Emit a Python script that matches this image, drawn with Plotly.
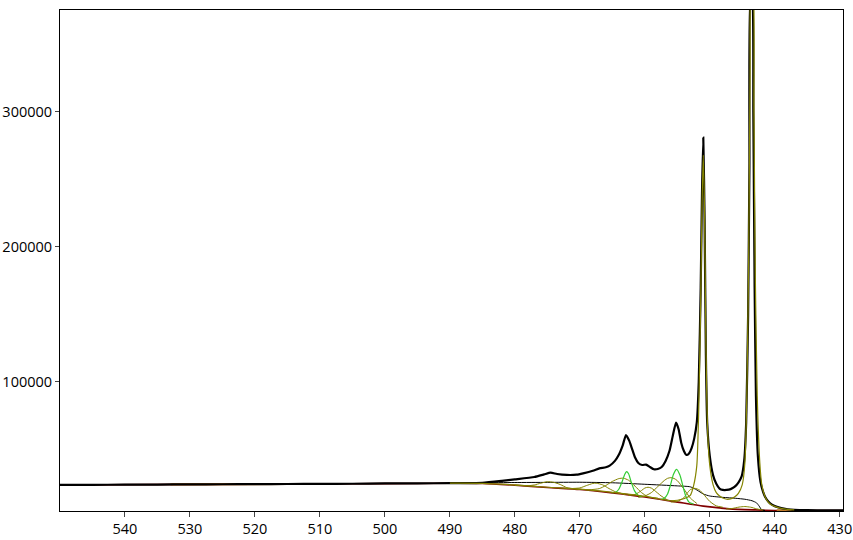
import plotly.graph_objects as go

# ---- measured spectrum (binding energy, counts) ----
be_data = [550, 545, 540, 535, 530, 525, 520, 515, 510, 505, 500, 495, 490, 485, 482, 480, 477,
           475.5, 474.5, 473.5, 472, 470.5, 469.5, 468, 467, 466, 465.4, 464.6, 464.0, 463.4,
           462.9, 462.4, 462.0, 461.5, 461.0, 460.4, 459.8, 459.2, 458.6, 458.0, 457.4, 456.8,
           456.2, 455.7, 455.2, 454.8, 454.4, 454.0, 453.6, 453.2, 452.8, 452.4, 452.0, 451.7,
           451.4, 451.2, 451.0, 450.8, 450.6, 450.4, 450.0, 449.5, 449.0, 448.5, 448.0, 447.4,
           446.8, 446.2, 445.6, 445.1, 444.7, 444.4, 444.1, 443.9, 443.7, 443.5, 443.3, 443.1,
           442.9, 442.6, 442.2, 441.8, 441.5, 441.0, 440.5, 440.0, 439.0, 438.0, 437.0, 435.0,
           432.0, 429.5]
counts_data = [23700, 23800, 23900, 24000, 24100, 24200, 24300, 24400, 24500, 24600, 24800, 24900,
               25000, 25300, 26700, 27800, 29600, 31500, 32800, 31800, 31100, 31300, 32300, 34200,
               36000, 36800, 38000, 41500, 46000, 53000, 60700, 56500, 51000, 44000, 40000, 38500,
               38800, 37000, 35300, 35500, 37000, 41500, 49000, 60000, 69900, 65000, 55000, 49000,
               45900, 47000, 51000, 58000, 70000, 100000, 170000, 240000, 281000, 220000, 120000,
               70000, 45000, 31000, 24500, 21000, 20000, 20000, 20600, 22200, 25500, 30000, 42000,
               70000, 150000, 260000, 385000, 385000, 300000, 170000, 90000, 45000, 26000, 18500,
               15000, 11500, 9300, 8000, 6500, 5700, 5300, 5000, 4900, 4900]

# ---- background ----
be_bg = [550, 530, 510, 500, 490, 485, 480, 475, 470, 465, 460, 455, 451, 447, 443, 440, 435, 429.5]
counts_bg = [23700, 24100, 24500, 24700, 24900, 24800, 23500, 21800, 20300, 17800, 14800, 11000,
             8000, 6000, 5200, 4800, 4700, 4700]

# ---- region markers (orange) ----
be_reg1 = [533, 515]
counts_reg1 = [24050, 24400]
be_reg2 = [439.7, 437.4]
counts_reg2 = [4800, 4750]

# ---- thin black envelope ----
be_env = [490, 485, 480, 475, 470, 465, 460, 455, 453, 452, 451, 450, 448, 446, 444.6, 443.5,
          442.8, 442.4, 442.0, 441.5]
counts_env = [25000, 25300, 25500, 25600, 25700, 25300, 24200, 23000, 22300, 20000, 17000, 15500,
              14500, 13800, 13100, 12000, 10400, 8000, 5200, 4800]

# ---- olive fit components ----
be_c1 = [480, 478, 477, 476, 475, 474, 473, 472, 471, 470]
counts_c1 = [23500, 23100, 23700, 25000, 26100, 25600, 24000, 21700, 20800, 20300]
be_c2 = [472, 470, 469, 468, 467.5, 466.5, 465.5, 464.5, 463]
counts_c2 = [20900, 21500, 23200, 24800, 25000, 23800, 21000, 18600, 16600]
be_c3 = [469, 467, 466, 465, 464, 463.3, 462.5, 461.5, 460.5, 459.5, 458]
counts_c3 = [19900, 21000, 23300, 26300, 28400, 28700, 27200, 22800, 18000, 15000, 14000]
be_c4 = [462.5, 461.5, 460.5, 460, 459.5, 459, 458.5, 457.5, 456.5]
counts_c4 = [16000, 16600, 19600, 21400, 22000, 21400, 19600, 15600, 12500]
be_c5 = [461, 460, 459, 458, 457, 456.5, 456, 455.5, 455, 454, 453, 452]
counts_c5 = [14500, 15500, 18000, 22500, 27000, 28600, 29100, 28500, 26900, 20800, 14000, 10000]
be_c6 = [456, 455, 454, 453.5, 453, 452.3, 451.6, 451, 450, 449, 448]
counts_c6 = [11000, 11500, 14200, 17500, 20200, 21200, 20000, 17000, 11500, 8200, 7200]
be_c7 = [447.5, 446.5, 445.5, 444.6, 443.7, 442.8, 441.8]
counts_c7 = [5900, 6300, 7300, 7700, 7200, 6000, 5100]

# ---- olive main doublet ----
be_dbl = [490, 485, 480, 475, 470, 465, 460, 456, 454, 453, 452.5, 452, 451.7, 451.4, 451.2, 451.0,
          450.8, 450.6, 450.3, 450, 449.5, 449, 448.5, 448, 447.4, 446.8, 446.2, 445.6, 445.0,
          444.6, 444.3, 444.0, 443.8, 443.6, 443.4, 443.2, 443.0, 442.7, 442.3, 442.0, 441.5,
          441.0, 440.5, 440, 439, 438, 437]
counts_dbl = [25000, 24900, 23700, 22000, 20600, 18200, 15300, 12000, 13500, 16000, 23000, 38000,
              80000, 160000, 230000, 268000, 225000, 130000, 60000, 38000, 24000, 18000, 15500,
              14000, 13100, 13400, 14800, 17500, 24000, 40000, 90000, 200000, 330000, 400000,
              400000, 300000, 180000, 90000, 40000, 24000, 15000, 11000, 8800, 7800, 6300, 5600,
              5200]

# ---- green components ----
be_g1 = [465, 464.5, 464, 463.5, 463.1, 462.8, 462.5, 462.1, 461.6, 461.0, 460.5]
counts_g1 = [17800, 18300, 20500, 26000, 31500, 33600, 32000, 26000, 19500, 15800, 15300]
be_g2 = [457.5, 457, 456.5, 456, 455.6, 455.1, 454.6, 454.2, 453.7, 453.2, 452.5]
counts_g2 = [13000, 13800, 17000, 24500, 31500, 35300, 31000, 24000, 15500, 11000, 9500]

x_ticks = [540, 530, 520, 510, 500, 490, 480, 470, 460, 450, 440, 430]
y_ticks = [100000, 200000, 300000]

OLIVE = "#858500"
GREEN = "#33cc33"
BG = "#800000"
ORANGE = "#c07828"

fig = go.Figure()


def line(x, y, color, width, shape="spline"):
    fig.add_trace(go.Scatter(x=x, y=y, mode="lines",
                             line=dict(color=color, width=width, shape=shape, smoothing=0.6),
                             showlegend=False, hoverinfo="skip"))


line(be_bg, counts_bg, BG, 1.6)
line(be_env, counts_env, "black", 1)
for bx, cy in [(be_c1, counts_c1), (be_c2, counts_c2), (be_c3, counts_c3), (be_c4, counts_c4),
               (be_c5, counts_c5), (be_c6, counts_c6), (be_c7, counts_c7)]:
    line(bx, cy, OLIVE, 1)
line(be_g1, counts_g1, GREEN, 1.2)
line(be_g2, counts_g2, GREEN, 1.2)
line(be_reg1, counts_reg1, ORANGE, 2.2, "linear")
line(be_reg2, counts_reg2, ORANGE, 2.2, "linear")
fig.add_trace(go.Scatter(x=be_data, y=counts_data, mode="lines",
                         line=dict(color="black", width=2.2, shape="spline", smoothing=0.5),
                         showlegend=False, hoverinfo="skip"))
line(be_dbl, counts_dbl, OLIVE, 1.2)

fig.update_layout(
    width=853, height=540,
    margin=dict(l=60, r=10, t=10, b=29),
    paper_bgcolor="white", plot_bgcolor="white",
    font=dict(family="Open Sans", size=14.5, color="black"),
    xaxis=dict(range=[550, 429.5], tickvals=x_ticks, ticks="outside", ticklen=5,
               showline=True, linecolor="black", linewidth=1, mirror=True,
               showgrid=False, zeroline=False, automargin=False),
    yaxis=dict(range=[4400, 375500], tickvals=y_ticks, tickformat="d", ticks="outside", ticklen=4,
               showline=True, linecolor="black", linewidth=1, mirror=True,
               showgrid=False, zeroline=False, automargin=False),
)

fig.write_html("out.html", config={"displayModeBar": False},
               post_script="document.body.style.margin='0';document.body.style.padding='0';")
